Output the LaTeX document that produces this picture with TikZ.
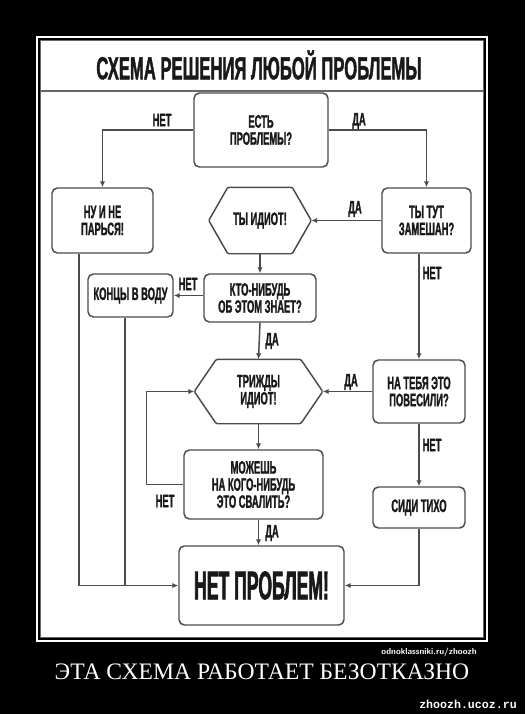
\documentclass[tikz,border=0pt]{standalone}
\usepackage{fontspec}
\setmainfont{Liberation Serif}
\newfontfamily\condfont[FakeStretch=0.52,FakeBold=1.2]{Liberation Sans}
\newfontfamily\bigcondfont[FakeStretch=0.44,FakeBold=1.5]{Liberation Sans}
\newfontfamily\sitefont{Liberation Mono}
\usetikzlibrary{arrows.meta}

\begin{document}
\begin{tikzpicture}[
    x=0.75pt, y=-0.75pt,
    box/.style={draw=black!70, line width=1.1pt, rounded corners=4pt, align=center, inner sep=0pt,
        font=\condfont\bfseries\fontsize{13.5}{12.8}\selectfont, text=black!90},
    hexcore/.style={box, draw=none},
    lbl/.style={font=\condfont\bfseries\fontsize{13.5}{13}\selectfont, text=black!90},
    arr/.style={-{Latex[length=4.5pt,width=4pt]}, draw=black!70, line width=1.1pt},
    wire/.style={draw=black!70, line width=1.1pt}
]
    % --- frame ---
    \fill[black] (0,0) rectangle (525,714);
    \draw[white, line width=1.5pt] (37,37) rectangle (487,641);
    \filldraw[fill=white, draw=black!60, line width=0.8pt] (40.5,40.5) rectangle (483.5,637.5);
    \node[font=\condfont\bfseries\fontsize{24}{26}\selectfont, text=black!90] (title) at (259,65) {СХЕМА РЕШЕНИЯ ЛЮБОЙ ПРОБЛЕМЫ};
    \draw[black!60, line width=1pt] (40.5,91) -- (483.5,91);

    % --- boxes ---
    \node[box, minimum width=100.5pt, minimum height=55.5pt] (problem) at (261,130) {ЕСТЬ\\ПРОБЛЕМЫ?};
    \node[box, minimum width=75.75pt, minimum height=48.75pt] (relax) at (102.5,220.5) {НУ И НЕ\\ПАРЬСЯ!};
    \node[box, minimum width=66.75pt, minimum height=48.75pt] (involved) at (426.5,220.5) {ТЫ ТУТ\\ЗАМЕШАН?};
    \node[hexcore, minimum width=75.75pt, minimum height=48.75pt] (idiot) at (260,220.5) {ТЫ ИДИОТ!};
    \node[box, minimum width=84pt, minimum height=36pt] (knows) at (260,298) {КТО-НИБУДЬ\\ОБ ЭТОМ ЗНАЕТ?};
    \node[box, minimum width=63.75pt, minimum height=32.25pt] (bury) at (130.5,295.5) {КОНЦЫ В ВОДУ};
    \node[hexcore, minimum width=95.25pt, minimum height=47.25pt] (idiot3) at (258.5,391.5) {ТРИЖДЫ\\ИДИОТ!};
    \node[box, minimum width=69pt, minimum height=47.25pt] (blamed) at (419,391.5) {НА ТЕБЯ ЭТО\\ПОВЕСИЛИ?};
    \node[box, minimum width=69pt, minimum height=30.75pt] (quiet) at (419,507.5) {СИДИ ТИХО};
    \node[box, minimum width=104.25pt, minimum height=51.75pt] (shift) at (253.5,484.5) {МОЖЕШЬ\\НА КОГО-НИБУДЬ\\ЭТО СВАЛИТЬ?};
    \node[box, minimum width=123.75pt, minimum height=59.25pt, font=\bigcondfont\bfseries\fontsize{30}{32}\selectfont] (fine) at (261.5,585.5) {НЕТ ПРОБЛЕМ!};

    % hexagon outlines
    \draw[wire, rounded corners=1pt] (idiot.west) -- ([xshift=14.25pt]idiot.north west) -- ([xshift=-14.25pt]idiot.north east)
        -- (idiot.east) -- ([xshift=-14.25pt]idiot.south east) -- ([xshift=14.25pt]idiot.south west) -- cycle;
    \draw[wire, rounded corners=1pt] (idiot3.west) -- ([xshift=16.5pt]idiot3.north west) -- ([xshift=-16.5pt]idiot3.north east)
        -- (idiot3.east) -- ([xshift=-16.5pt]idiot3.south east) -- ([xshift=16.5pt]idiot3.south west) -- cycle;

    % --- connectors ---
    \draw[arr] (problem.west) -| (relax.north);
    \draw[arr] (problem.east) -| (involved.north);
    \draw[arr] (involved.west) -- (idiot.east);
    \draw[arr] (idiot.south) -- (knows.north);
    \draw[arr] (knows.west |- bury) -- (bury.east);
    \draw[arr] (knows.south) -- (idiot3.north);
    \draw[arr] (involved.south -| blamed) -- (blamed.north);
    \draw[arr] (blamed.west) -- (idiot3.east);
    \draw[arr] (blamed.south) -- (quiet.north);
    \draw[arr] (idiot3.south) -- (idiot3.south |- shift.north);
    \draw[arr] (shift.west) -- ++(-37,0) |- (idiot3.west);
    \draw[arr] (idiot3 |- shift.south) -- (idiot3 |- fine.north);
    \draw[arr] (quiet.south) |- (fine.east);
    \draw[arr] ([xshift=-17.6pt]relax.south) |- (fine.west);
    \draw[wire] ([xshift=-4.1pt]bury.south) -- ([xshift=-4.1pt]bury.south |- fine.west);

    % --- labels ---
    \node[lbl] (noProblem) at (162,120) {НЕТ};
    \node[lbl] (yesProblem) at (359,121) {ДА};
    \node[lbl] (yesInvolved) at (355,209) {ДА};
    \node[lbl] (noInvolved) at (432,273) {НЕТ};
    \node[lbl] (noKnows) at (188,284) {НЕТ};
    \node[lbl] (yesKnows) at (272,341) {ДА};
    \node[lbl] (yesBlamed) at (351,382) {ДА};
    \node[lbl] (noBlamed) at (432,445) {НЕТ};
    \node[lbl] (noShift) at (165,501) {НЕТ};
    \node[lbl] (yesShift) at (272,533) {ДА};

    % --- caption ---
    \node[font=\fontsize{6.5}{7}\selectfont\sffamily\bfseries, text=white] (source) at (429,652) {odnoklassniki.ru/zhoozh};
    \node[font=\fontsize{17.7}{19}\selectfont, text=white] (caption) at (262,672) {ЭТА СХЕМА РАБОТАЕТ БЕЗОТКАЗНО};
    \node[font=\sitefont\bfseries\fontsize{8.7}{10}\selectfont, text=white] (site) at (468,704) {zhoozh.ucoz.ru};
\end{tikzpicture}
\end{document}
